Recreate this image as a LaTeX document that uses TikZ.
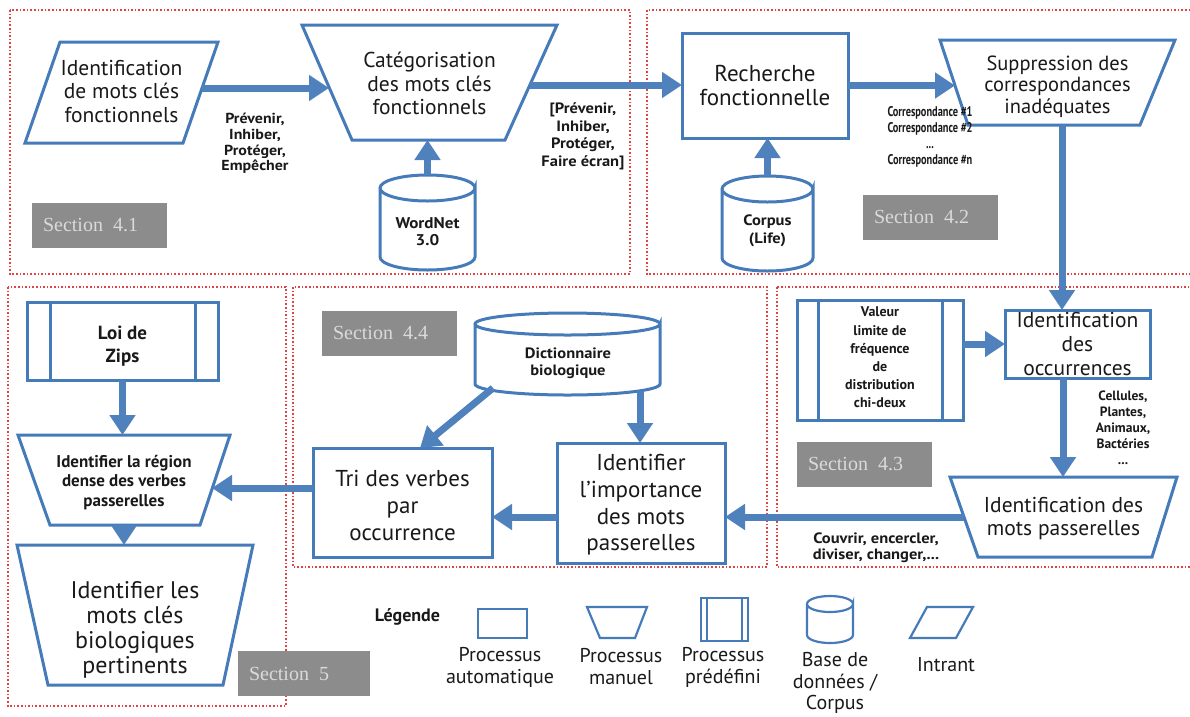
\documentclass[tikz,border=0pt]{standalone}
\usepackage{fontspec}
\setmainfont{PT Sans}
\newfontfamily\secfont{Liberation Serif}
\newfontfamily\cndfont[FakeStretch=0.74]{PT Sans}
\newfontfamily\labfont[FakeStretch=1.1]{PT Sans}
\usetikzlibrary{arrows.meta,calc}
\definecolor{bblue}{RGB}{70,123,185}
\definecolor{ablue}{RGB}{79,129,189}
\definecolor{fred}{RGB}{226,66,66}
\definecolor{sgray}{RGB}{140,140,140}
\definecolor{stext}{RGB}{218,218,218}
\definecolor{txt}{RGB}{25,25,25}
\newcommand\fs[2]{\fontsize{#1}{#2}\selectfont}
\newcommand\drawtrap[3]{\draw[shp] (#1.north west) -- (#1.north east) -- ([xshift=-#3]#1.south east) -- ([xshift=#2]#1.south west) -- cycle;}
\newcommand\drawpara[2]{\draw[shp] ([xshift=#2]#1.north west) -- (#1.north east) -- ([xshift=-#2]#1.south east) -- (#1.south west) -- cycle;}
\newcommand\drawpredef[2]{\draw[shp] (#1.south west) rectangle (#1.north east); \draw[shp] ([xshift=#2]#1.south west) -- ([xshift=#2]#1.north west) ([xshift=-#2]#1.south east) -- ([xshift=-#2]#1.north east);}
\newcommand\drawcyl[3]{\draw[shp] ([yshift=-#3]#1.north west) -- ([yshift=#3]#1.south west) arc[start angle=180,end angle=360,x radius=#2,y radius=#3] -- ([yshift=-#3]#1.north east) arc[start angle=0,end angle=-180,x radius=#2,y radius=#3] arc[start angle=180,end angle=0,x radius=#2,y radius=#3];}
\tikzset{
 sz/.style 2 args={inner sep=0pt, outer sep=0pt, minimum width=#1, minimum height=#2},
 tx/.style={inner sep=0pt, align=center, text=txt},
 shp/.style={draw=bblue, line width=3pt, line join=miter},
 arr/.style={draw=ablue, line width=7pt, -{Triangle[length=20pt,width=25pt]}},
 frm/.style={draw=fred, line width=1.7pt, dash pattern=on 1.6pt off 2pt},
 secbox/.style={fill=sgray, text=stext, font=\secfont\fs{20}{22}, inner xsep=11pt, inner ysep=0pt, text width=#1, align=left, minimum height=45pt},
 lab/.style={inner sep=0pt, align=center, text=txt},
}
\begin{document}
\begin{tikzpicture}[x=1pt,y=-1pt]
\useasboundingbox (0,0) rectangle (1190,716);
% section frames
\draw[frm] (10,10) rectangle (630,274);
\draw[frm] (647,10) rectangle (1200,274);
\draw[frm] (8,287) rectangle (286,706);
\draw[frm] (293,287) rectangle (767,567);
\draw[frm] (777,287) rectangle (1200,567);
% section tags
\node[secbox=113pt] (sec41) at (99.5,225.5) {Section\hspace{0.5em}4.1};
\node[secbox=113pt] (sec42) at (930.5,217) {Section\hspace{0.5em}4.2};
\node[secbox=113pt] (sec43) at (864.5,464.5) {Section\hspace{0.5em}4.3};
\node[secbox=113pt] (sec44) at (389.5,333) {Section\hspace{0.5em}4.4};
\node[secbox=110pt] (sec5) at (304,673.5) {Section\hspace{0.5em}5};
% shapes
\node[sz={193pt}{101pt}] (p1) at (121.5,92.5) {}; \drawpara{p1}{35pt}
\node[sz={255pt}{115pt}] (t1) at (429.5,82.5) {}; \drawtrap{t1}{50pt}{52pt}
\node[sz={95pt}{95pt}] (wn) at (427.5,222.5) {}; \drawcyl{wn}{47.5pt}{13pt}
\node[sz={166pt}{105pt}, shp] (r) at (765,85.5) {};
\node[sz={91pt}{95pt}] (cp) at (767.5,223.5) {}; \drawcyl{cp}{45.5pt}{13pt}
\node[sz={235pt}{85pt}] (s) at (1057.5,82.5) {}; \drawtrap{s}{28pt}{35pt}
\node[sz={166pt}{120pt}] (v) at (880,360) {}; \drawpredef{v}{21pt}
\node[sz={145pt}{68pt}, shp] (o) at (1077.5,344) {};
\node[sz={227pt}{80pt}] (mp) at (1063.5,517) {}; \drawtrap{mp}{28pt}{25pt}
\node[sz={185pt}{82pt}] (d) at (567.5,354) {}; \drawcyl{d}{92.5pt}{11pt}
\node[sz={179pt}{109pt}, shp] (tri) at (402.5,502.5) {};
\node[sz={168pt}{120pt}, shp] (ii) at (641,503) {};
\node[sz={191pt}{78pt}] (loi) at (122.5,341) {}; \drawpredef{loi}{23pt}
\node[sz={212pt}{90pt}] (reg) at (124,480) {}; \drawtrap{reg}{32pt}{30pt}
\node[sz={236pt}{140pt}] (b) at (135,615) {}; \drawtrap{b}{31pt}{30pt}
% texts in shapes
\node[tx, font=\fs{21.5}{23.5}] (p1t) at (121.5,91.5) {Identification\\de mots clés\\fonctionnels};
\node[tx, font=\fs{21.5}{23.5}] (t1t) at (429.5,83.5) {Catégorisation\\des mots clés\\fonctionnels};
\node[tx, font=\labfont\bfseries\fs{15.5}{17}] (wnt) at (427.5,231.5) {WordNet\\3.0};
\node[tx, font=\fs{23}{24}] (rt) at (765,85) {Recherche\\fonctionnelle};
\node[tx, font=\labfont\bfseries\fs{15}{18}] (cpt) at (767.5,231) {Corpus\\(Life)};
\node[tx, font=\fs{20.5}{21.5}] (st) at (1057.5,86.5) {Suppression des\\correspondances\\inadéquates};
\node[tx, font=\bfseries\fs{14}{18.2}] (vt) at (880,357.5) {Valeur\\limite de\\fréquence\\de\\distribution\\chi-deux};
\node[tx, font=\fs{21.5}{24}] (ot) at (1077.5,344) {Identification\\des\\occurrences};
\node[tx, font=\fs{21.5}{23}] (mpt) at (1063.5,518.5) {Identification des\\mots passerelles};
\node[tx, font=\labfont\bfseries\fs{15}{17}] (dt) at (568,363.5) {Dictionnaire\\biologique};
\node[tx, font=\fs{23}{27}] (trit) at (402.5,505) {Tri des verbes\\par\\occurrence};
\node[tx, font=\fs{23}{26.7}] (iit) at (641,505) {Identifier\\l’importance\\des mots\\passerelles};
\node[tx, font=\bfseries\fs{19}{23}] (loit) at (122.5,346.5) {Loi de\\Zips};
\node[tx, font=\bfseries\fs{17}{19.5}] (regt) at (124,482.5) {Identifier la région\\dense des verbes\\passerelles};
\node[tx, font=\fs{24}{25}] (bt) at (135,629.5) {Identifier les\\mots clés\\biologiques\\pertinents};
% connector labels
\node[lab, font=\labfont\bfseries\fs{14.5}{15.7}] (l1) at (255,143.5) {Prévenir,\\Inhiber,\\Protéger,\\Empêcher};
\node[lab, font=\labfont\bfseries\fs{15}{17.6}] (l2) at (583,136.5) {[Prévenir,\\Inhiber,\\Protéger,\\Faire écran]};
\node[lab, font=\cndfont\bfseries\fs{14}{16}] (l3) at (930,137) {Correspondance \#1\\Correspondance \#2\\...\\Correspondance \#n};
\node[lab, font=\bfseries\fs{13.5}{16}] (l4) at (1123,427.5) {Cellules,\\Plantes,\\Animaux,\\Bactéries\\...};
\node[lab, font=\labfont\bfseries\fs{15}{16}] (l5) at (876,548) {Couvrir, encercler,\\diviser, changer,...};
% connectors
\coordinate (a1s) at ([xshift=-16pt,yshift=4.5pt]p1.east);
\coordinate (t1w) at ([xshift=27pt]t1.west);
\draw[arr] (a1s) -- (a1s -| t1w);
\coordinate (a2s) at ([xshift=-27pt,yshift=-2.5pt]t1.east);
\draw[arr] (a2s) -- (a2s -| r.west);
\coordinate (a3e) at ([xshift=15pt]s.west);
\draw[arr] (r.east) -- (r.east -| a3e);
\draw[arr] (wn.north) -- (wn.north |- t1.south);
\draw[arr] (cp.north) -- (cp.north |- r.south);
\coordinate (a4s) at ([xshift=4.5pt]s.south);
\draw[arr] (a4s) -- (a4s |- o.north);
\draw[arr] (o.west -| v.east) -- (o.west);
\coordinate (a6s) at ([xshift=-14.5pt]o.south);
\draw[arr] (a6s) -- (a6s |- mp.north);
\coordinate (a7s) at ([xshift=14pt]mp.west);
\draw[arr] (a7s) -- (a7s -| ii.east);
\draw[arr] (a7s -| ii.west) -- (a7s -| tri.east);
\coordinate (a9s) at ([yshift=14.5pt]tri.west);
\coordinate (rege) at ([xshift=-18pt]reg.east);
\draw[arr] (a9s) -- (a9s -| rege);
\draw[arr] (loi.south) -- (loi.south |- reg.north);
\draw[arr] (reg.south) -- (reg.south |- b.north);
\draw[arr] ([xshift=18pt,yshift=7pt]d.south west) -- ([xshift=17.5pt]tri.north);
\coordinate (a13s) at ([xshift=72.5pt,yshift=4pt]d.south);
\draw[arr] (a13s) -- (a13s |- ii.north);
% legend
\node[tx, font=\bfseries\fs{18}{20}] (leg) at (407.5,617) {Légende};
\node[sz={49pt}{29pt}, shp, line width=2.2pt] (lrect) at (502.5,623.5) {};
\node[sz={60pt}{31pt}] (ltrap) at (617,622.5) {}; 
\draw[shp, line width=2.2pt] (ltrap.north west) -- (ltrap.north east) -- ([xshift=-12pt]ltrap.south east) -- ([xshift=13pt]ltrap.south west) -- cycle;
\node[sz={47pt}{43pt}] (lpre) at (724.5,619.5) {};
\draw[shp, line width=2.2pt] (lpre.south west) rectangle (lpre.north east) ([xshift=6pt]lpre.south west) -- ([xshift=6pt]lpre.north west) ([xshift=-6pt]lpre.south east) -- ([xshift=-6pt]lpre.north east);
\node[sz={46pt}{47pt}] (lcyl) at (830,619.5) {};
\draw[shp, line width=2.2pt] ([yshift=-8pt]lcyl.north west) -- ([yshift=8pt]lcyl.south west) arc[start angle=180,end angle=360,x radius=23pt,y radius=8pt] -- ([yshift=-8pt]lcyl.north east) arc[start angle=0,end angle=-180,x radius=23pt,y radius=8pt] arc[start angle=180,end angle=0,x radius=23pt,y radius=8pt];
\node[sz={63pt}{31pt}] (lpar) at (941.5,622.5) {};
\draw[shp, line width=2.2pt] ([xshift=17pt]lpar.north west) -- (lpar.north east) -- ([xshift=-17pt]lpar.south east) -- (lpar.south west) -- cycle;
\node[tx, font=\fs{20}{22}] (lt1) at (500,667) {Processus\\automatique};
\node[tx, font=\fs{20}{22}] (lt2) at (621,667) {Processus\\manuel};
\node[tx, font=\fs{20}{22}] (lt3) at (723,667) {Processus\\prédéfini};
\node[tx, font=\fs{20}{21.5}] (lt4) at (835,683) {Base de\\données /\\Corpus};
\node[tx, font=\fs{20}{22}] (lt5) at (946,665) {Intrant};
\end{tikzpicture}
\end{document}
